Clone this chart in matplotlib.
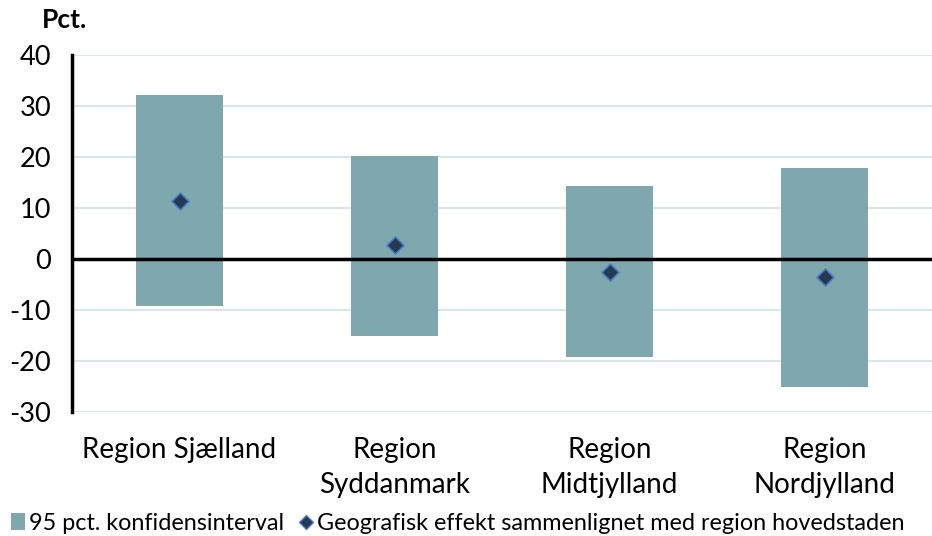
import matplotlib
matplotlib.use("Agg")
import matplotlib.pyplot as plt
from matplotlib.lines import Line2D
from matplotlib.patches import Patch

regions = ["Region Sjælland", "Region\nSyddanmark", "Region\nMidtjylland", "Region\nNordjylland"]
lower = [-9.2, -15.0, -19.3, -25.0]
upper = [32.1, 20.2, 14.3, 17.8]
effect = [11.4, 2.7, -2.5, -3.5]
yticks = [-30, -20, -10, 0, 10, 20, 30, 40]

plt.rcParams["font.family"] = ["Lato", "DejaVu Sans"]

fig = plt.figure(figsize=(9.32, 5.36), dpi=100)
ax = fig.add_axes([0.0773, 0.2313, 0.9227, 0.6661])

x = range(len(regions))
heights = [u - l for u, l in zip(upper, lower)]
ax.bar(x, heights, bottom=lower, width=0.405, color="#7fa8ae", zorder=2)
ax.scatter(x, effect, marker="D", s=75, color="#243a52", edgecolors="#4a7cc4",
           linewidths=1.2, zorder=4)

ax.set_xlim(-0.5, len(regions) - 0.5)
ax.set_ylim(-30, 40)
ax.set_yticks(yticks)
ax.set_yticklabels([str(t) for t in yticks], fontsize=19.5)
ax.set_xticks(list(x))
ax.set_xticklabels(regions, fontsize=20, linespacing=1.45)
ax.tick_params(axis="both", length=0)
ax.tick_params(axis="y", pad=15)
ax.tick_params(axis="x", pad=18)

ax.grid(axis="y", color="#d8e6e8", linewidth=1.5, zorder=0)
ax.axhline(0, color="black", linewidth=2.5, zorder=3)
for s in ["top", "right", "bottom"]:
    ax.spines[s].set_visible(False)
ax.spines["left"].set_linewidth(2.5)
ax.spines["left"].set_zorder(5)

fig.text(0.045, 0.962, "Pct.", fontsize=19, fontweight="bold", va="center")

handles = [
    Patch(facecolor="#7fa8ae", label="95 pct. konfidensinterval"),
    Line2D([], [], marker="D", linestyle="none", markersize=7, color="#243a52",
           markeredgecolor="#4a7cc4", label="Geografisk effekt sammenlignet med region hovedstaden"),
]
fig.legend(handles=handles, loc="lower left", bbox_to_anchor=(-0.011, -0.035), ncol=2,
           frameon=False, fontsize=16.8, handlelength=0.6, handletextpad=0.2,
           columnspacing=0.6)

fig.savefig("out.png", dpi=100)
